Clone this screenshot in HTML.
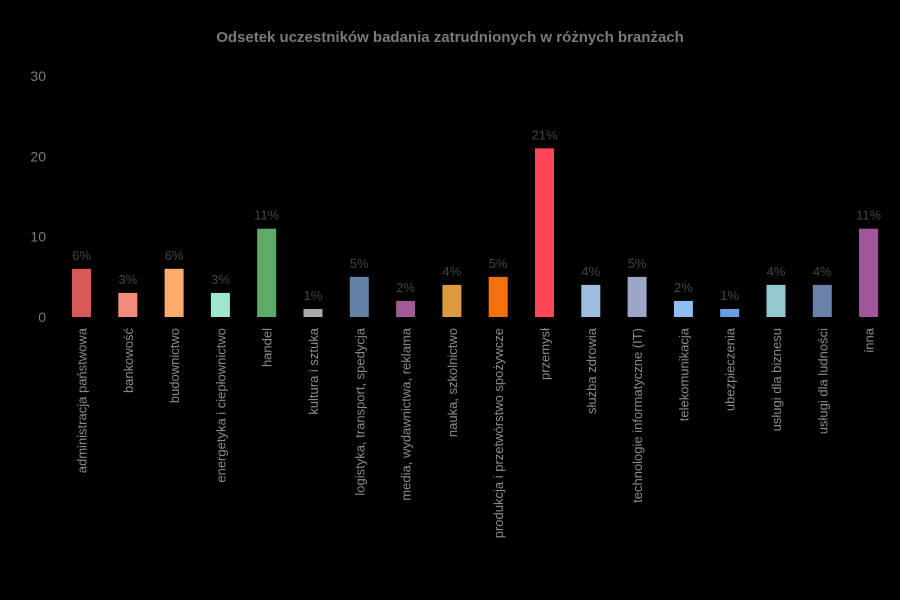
<!DOCTYPE html>
<html><head><meta charset="utf-8"><style>
html,body{margin:0;padding:0;background:#000;}
svg{display:block;font-family:"Liberation Sans",sans-serif;}
</style></head><body>
<svg id="chart" width="900" height="600">
<text x="450" y="42" text-anchor="middle" fill="#7a7a7a" font-size="15" font-weight="bold">Odsetek uczestników badania zatrudnionych w różnych branżach</text>
<g id="yaxis"></g>
<g id="bars"></g>
</svg>
<script>
const categories=["administracja państwowa","bankowość","budownictwo","energetyka i ciepłownictwo","handel","kultura i sztuka","logistyka, transport, spedycja","media, wydawnictwa, reklama","nauka, szkolnictwo","produkcja i przetwórstwo spożywcze","przemysł","służba zdrowia","technologie informatyczne (IT)","telekomunikacja","ubezpieczenia","usługi dla biznesu","usługi dla ludności","inna"];
const values=[6,3,6,3,11,1,5,2,4,5,21,4,5,2,1,4,4,11];
const colors=["#d65a57","#f58c7b","#ffab6b","#9fe6cc","#5eab68","#aaaaaa","#6380a8","#a05a94","#dc9b3e","#f2700f","#ff4558","#9dbedf","#9ca6c6","#8fbff2","#6a9be4","#94c7cf","#6a82aa","#a0569a"];
const yTicks=[0,10,20,30];
const NS="http://www.w3.org/2000/svg";
const y0=317,unit=8.03;
function y(v){return y0-v*unit;}
function xc(i){return 81.5+i*46.3;}
const ya=document.getElementById('yaxis'),bg=document.getElementById('bars');
yTicks.forEach(t=>{const e=document.createElementNS(NS,'text');


e.setAttribute('x',46);e.setAttribute('y',y(t)+5);e.setAttribute('text-anchor','end');e.setAttribute('fill','#7a7a7a');e.setAttribute('font-size','14');e.textContent=t;ya.appendChild(e);});
categories.forEach((c,i)=>{const v=values[i];
const r=document.createElementNS(NS,'rect');


r.setAttribute('x',xc(i)-9.5);r.setAttribute('width',19);r.setAttribute('y',y(v));r.setAttribute('height',v*unit);r.setAttribute('fill',colors[i]);bg.appendChild(r);
const l=document.createElementNS(NS,'text');


l.setAttribute('x',xc(i));l.setAttribute('y',y(v)-9);l.setAttribute('text-anchor','middle');l.setAttribute('fill','#444');l.setAttribute('font-size','13');l.textContent=v+'%';bg.appendChild(l);
const t=document.createElementNS(NS,'text');


t.setAttribute('transform','translate('+(xc(i)+5)+',328) rotate(-90)');t.setAttribute('text-anchor','end');t.setAttribute('fill','#8a8a8a');t.setAttribute('font-size','13');t.textContent=c;bg.appendChild(t);
});
</script>
</body></html>
